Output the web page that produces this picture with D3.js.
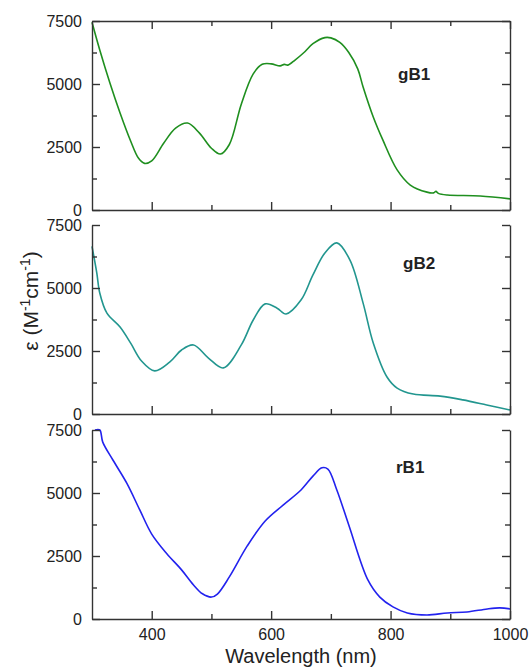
<!DOCTYPE html>
<html>
<head>
<meta charset="utf-8">
<script src="https://cdn.jsdelivr.net/npm/d3@7"></script>
<style>
  body { margin: 0; background: #fff; }
  text { font-family: "Liberation Sans", Arial, sans-serif; fill: #222; }
  .axis path, .axis line { stroke: #333; stroke-width: 1.4; }
  .axis text { font-size: 16px; }
</style>
</head>
<body>
<div id="chart"></div>
<script>
// wavelengths (nm) and extinction values
var gB1Wave = [300, 313, 330, 347, 364, 378, 388, 400, 420, 440, 460, 480, 500, 515, 530, 550, 570, 585, 600, 615, 622, 628, 640, 655, 670, 690, 700, 715, 730, 745, 754, 771, 787, 811, 833, 861, 872, 876, 880, 895, 950, 1000];
var gB1Eps = [7450, 6350, 5040, 3850, 2780, 2050, 1850, 1950, 2650, 3250, 3450, 3050, 2450, 2220, 2600, 4200, 5400, 5780, 5800, 5720, 5780, 5750, 5950, 6250, 6600, 6840, 6830, 6650, 6250, 5600, 4880, 3690, 2780, 1590, 990, 710, 680, 740, 660, 595, 555, 440];

var gB2Wave = [300, 308, 313, 325, 347, 365, 383, 405, 430, 450, 470, 495, 520, 550, 570, 590, 610, 625, 650, 670, 690, 710, 732, 754, 771, 794, 811, 838, 883, 921, 961, 1000];
var gB2Eps = [6650, 5600, 4800, 4000, 3450, 2800, 2100, 1710, 2060, 2540, 2740, 2220, 1830, 2740, 3730, 4370, 4200, 3970, 4520, 5520, 6390, 6790, 6110, 4400, 2820, 1470, 1030, 790, 710, 560, 360, 160];

var rB1Wave = [305, 313, 318, 335, 358, 380, 400, 425, 450, 470, 485, 500, 510, 530, 560, 590, 620, 650, 670, 685, 695, 710, 730, 762, 782, 804, 828, 861, 895, 928, 962, 983, 1000];
var rB1Eps = [7500, 7500, 7020, 6310, 5400, 4330, 3370, 2600, 1950, 1350, 1000, 870, 990, 1670, 2900, 3890, 4520, 5120, 5670, 6000, 5950, 5120, 3730, 1550, 870, 480, 240, 160, 240, 280, 400, 440, 400];

var yMajorTicks = [0, 2500, 5000, 7500];
var yMinorTicks = [1250, 3750, 6250];
var xMajorTicks = [400, 600, 800, 1000];
var xMinorTicks = [500, 700, 900];

var panels = [
  { name: "gB1", wave: gB1Wave, eps: gB1Eps, color: "#1f8f1f", top: 21, labelX: 398, labelY: 80 },
  { name: "gB2", wave: gB2Wave, eps: gB2Eps, color: "#22968f", top: 225, labelX: 403, labelY: 269 },
  { name: "rB1", wave: rB1Wave, eps: rB1Eps, color: "#2222ee", top: 430, labelX: 396, labelY: 473 }
];

var margin = { left: 92, right: 21 };
var chartWidth = 531 - margin.left - margin.right;
var panelHeight = 189;

var svg = d3
  .select("#chart")
  .append("svg")
  .attr("width", 531)
  .attr("height", 667);

var xScale = d3.scaleLinear().domain([300, 1000]).range([0, chartWidth]);
var yScale = d3.scaleLinear().domain([0, 7500]).range([panelHeight, 0]);

var line = d3
  .line()
  .x(function(d) { return xScale(d[0]); })
  .y(function(d) { return yScale(d[1]); })
  .curve(d3.curveCatmullRom.alpha(0.5));

panels.forEach(function(p, i) {
  var g = svg
    .append("g")
    .attr("transform", "translate(" + margin.left + "," + p.top + ")");

  var pts = p.wave.map(function(w, j) { return [w, p.eps[j]]; });

  g.append("path")
    .datum(pts)
    .attr("d", line)
    .attr("fill", "none")
    .attr("stroke", p.color)
    .attr("stroke-width", 1.6);

  // left axis
  g.append("g")
    .attr("class", "axis")
    .call(d3.axisLeft(yScale).tickValues(yMajorTicks).tickFormat(d3.format("d")).tickSize(-8).tickPadding(10).tickSizeOuter(0));
  g.append("g")
    .attr("class", "axis")
    .call(d3.axisLeft(yScale).tickValues(yMinorTicks).tickSize(-5).tickFormat("").tickSizeOuter(0))
    .select(".domain").remove();

  // right axis
  g.append("g")
    .attr("class", "axis")
    .attr("transform", "translate(" + chartWidth + ",0)")
    .call(d3.axisRight(yScale).tickValues(yMajorTicks).tickSize(-8).tickFormat("").tickSizeOuter(0));
  g.append("g")
    .attr("class", "axis")
    .attr("transform", "translate(" + chartWidth + ",0)")
    .call(d3.axisRight(yScale).tickValues(yMinorTicks).tickSize(-5).tickFormat("").tickSizeOuter(0))
    .select(".domain").remove();

  // bottom axis, labels only under the last panel
  var xAxis = d3.axisBottom(xScale).tickValues(xMajorTicks).tickSize(-8).tickPadding(10).tickSizeOuter(0);
  if (i < 2) xAxis.tickFormat("");
  else xAxis.tickFormat(d3.format("d"));
  g.append("g")
    .attr("class", "axis")
    .attr("transform", "translate(0," + panelHeight + ")")
    .call(xAxis);
  g.append("g")
    .attr("class", "axis")
    .attr("transform", "translate(0," + panelHeight + ")")
    .call(d3.axisBottom(xScale).tickValues(xMinorTicks).tickSize(-5).tickFormat("").tickSizeOuter(0))
    .select(".domain").remove();

  // top frame only on first panel
  if (i == 0) {
    g.append("g")
      .attr("class", "axis")
      .call(d3.axisTop(xScale).tickValues(xMajorTicks).tickSize(-8).tickFormat("").tickSizeOuter(0));
    g.append("g")
      .attr("class", "axis")
      .call(d3.axisTop(xScale).tickValues(xMinorTicks).tickSize(-5).tickFormat("").tickSizeOuter(0))
      .select(".domain").remove();
  }

  svg
    .append("text")
    .text(p.name)
    .attr("x", p.labelX)
    .attr("y", p.labelY)
    .style("font-size", "17px")
    .style("font-weight", "bold");
});

svg
  .append("text")
  .text("Wavelength (nm)")
  .attr("x", margin.left + chartWidth / 2)
  .attr("y", 663)
  .attr("text-anchor", "middle")
  .style("font-size", "20px");

var yLab = svg
  .append("text")
  .attr("transform", "translate(38,301) rotate(-90)")
  .attr("text-anchor", "middle")
  .style("font-size", "21px");
yLab.append("tspan").text("\u03b5 (M");
yLab.append("tspan").text("-1").attr("dy", -8).style("font-size", "14px");
yLab.append("tspan").text("cm").attr("dy", 8);
yLab.append("tspan").text("-1").attr("dy", -8).style("font-size", "14px");
yLab.append("tspan").text(")").attr("dy", 8);
</script>
</body>
</html>
